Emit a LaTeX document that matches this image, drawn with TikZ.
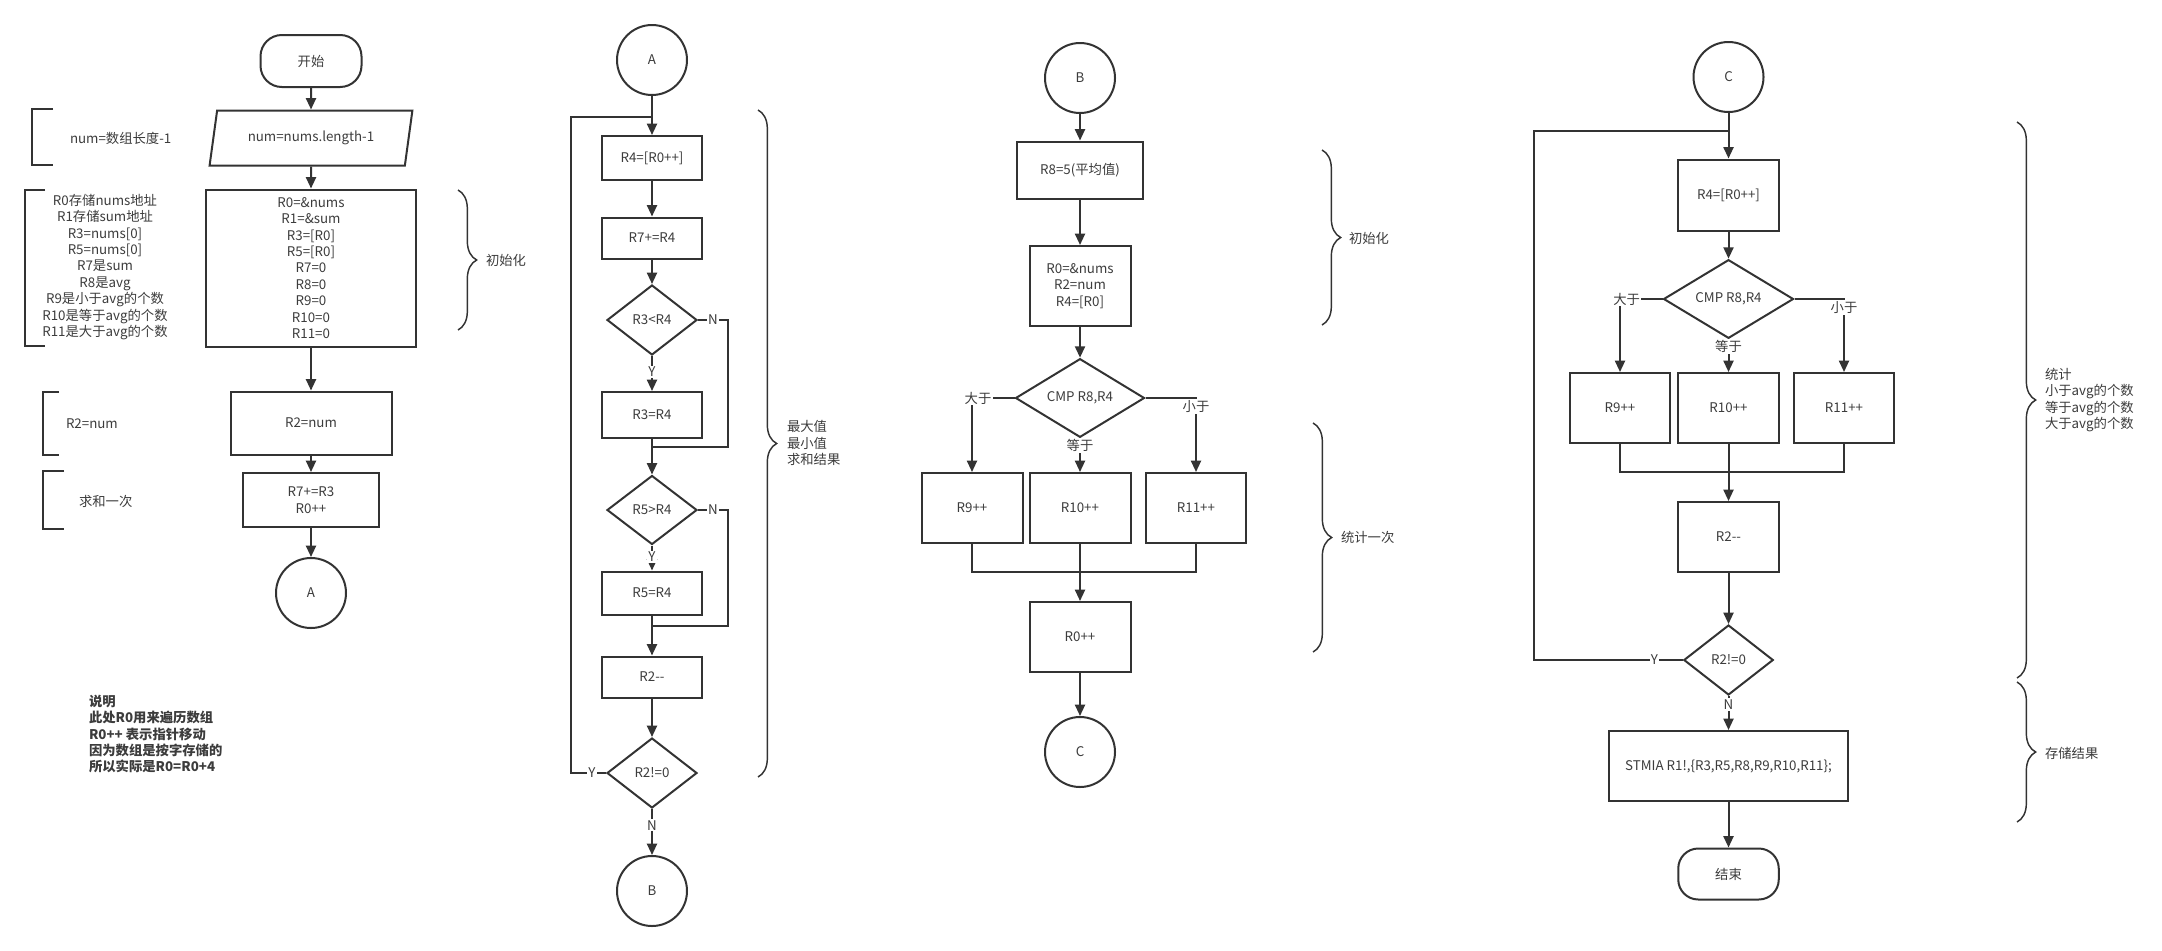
\documentclass[tikz,border=0pt]{standalone}
\usepackage{fontspec}
\setmainfont{Noto Sans CJK SC}
\usetikzlibrary{arrows.meta,shapes.geometric,decorations.pathreplacing}

\definecolor{inkgray}{HTML}{333333}
\definecolor{txtgray}{HTML}{3C3C3C}
\newcommand{\diagfont}{\fontsize{10pt}{12.3pt}\selectfont}

\tikzset{every picture/.style={line width=1.5pt}}
\tikzset{
  every node/.style={font=\diagfont},
  box/.style={draw=inkgray, rectangle, inner sep=0pt, text=txtgray, align=center},
  term/.style={box, rounded corners=16pt},
  conn/.style={draw=inkgray, circle, inner sep=0pt, text=txtgray, minimum size=52.5pt},
  decision/.style={draw=inkgray, diamond, inner sep=0pt, text=txtgray},
  io/.style={draw=inkgray, trapezium, trapezium left angle=70, trapezium right angle=110, trapezium stretches=true, inner sep=0pt, text=txtgray},
  arr/.style={draw=inkgray, -{Triangle[length=8.5pt,width=7.5pt]}},
  wire/.style={draw=inkgray},
  lbl/.style={fill=white, inner sep=1pt, text=txtgray},
  note/.style={text=txtgray, inner sep=0pt, align=left},
  bracket/.style={draw=inkgray, line width=1.5pt},
  curly/.style={draw=inkgray, line width=1.1pt, decorate, decoration={brace, amplitude=14pt}},
}

\begin{document}
\begin{tikzpicture}[x=0.75pt,y=0.75pt,yscale=-1,xscale=1]
\useasboundingbox (0,0) rectangle (2162,950);

%Main flow, part 1
\node[term, minimum width=75.75pt, minimum height=39pt] (start) at (311,61) {开始};
\node[io, minimum width=152.25pt, minimum height=41.25pt] (inp) at (311,138) {num=nums.length-1};
\node[box, minimum width=157.5pt, minimum height=117.75pt] (init) at (311,268) {R0=\&nums\\R1=\&sum\\R3=[R0]\\R5=[R0]\\R7=0\\R8=0\\R9=0\\R10=0\\R11=0};
\node[box, minimum width=120.75pt, minimum height=47.25pt] (r2) at (311,423) {R2=num};
\node[box, minimum width=102pt, minimum height=40.5pt] (sum) at (311,500) {R7+=R3\\R0++};
\node[conn] (A1) at (311,593) {A};

\draw[arr] (start) -- (inp);
\draw[arr] (inp) -- (init);
\draw[arr] (init) -- (r2);
\draw[arr] (r2) -- (sum);
\draw[arr] (sum) -- (A1);

% Text Node
\draw[bracket] (53,109) -- (32,109) -- (32,165) -- (53,165);
\node[note, anchor=west] (n1) at (69,138) {num=数组长度-1};
\draw[bracket] (45,190) -- (25,190) -- (25,346) -- (45,346);
\node[note, align=center] (n2) at (105,267) {R0存储nums地址\\R1存储sum地址\\R3=nums[0]\\R5=nums[0]\\R7是sum\\R8是avg\\R9是小于avg的个数\\R10是等于avg的个数\\R11是大于avg的个数};
\draw[bracket] (59,392) -- (43,392) -- (43,455) -- (59,455);
\node[note, anchor=west] (n3) at (65,424) {R2=num};
\draw[bracket] (64,471) -- (43,471) -- (43,529) -- (64,529);
\node[note, anchor=west] (n4) at (78,501) {求和一次};
\draw[curly] (458,190) -- (458,330);
\node[note, anchor=west] (n5) at (485,260) {初始化};
% Text Node
\node[note, anchor=west, font=\diagfont\bfseries] (memo) at (88,734) {说明\\此处R0用来遍历数组\\R0++ 表示指针移动\\因为数组是按字存储的\\所以实际是R0=R0+4};

%Main flow, part 2
\node[conn] (A2) at (652,60) {A};
\node[box, minimum width=75pt, minimum height=33pt] (r4a) at (652,158) {R4=[R0++]};
\node[box, minimum width=75pt, minimum height=30.75pt] (r7) at (652,238) {R7+=R4};
\node[decision, minimum width=67.5pt, minimum height=52.5pt] (lt) at (652,320) {R3<R4};
\node[box, minimum width=75pt, minimum height=34.5pt] (r3) at (652,415) {R3=R4};
\node[decision, minimum width=67.5pt, minimum height=51.75pt] (gt) at (652,510) {R5>R4};
\node[box, minimum width=75pt, minimum height=32.25pt] (r5) at (652,593) {R5=R4};
\node[box, minimum width=75pt, minimum height=30.75pt] (dec2) at (652,677) {R2-{}-};
\node[decision, minimum width=67.5pt, minimum height=52.5pt] (ne2) at (652,773) {R2!=0};
\node[conn] (B2) at (652,891) {B};
\coordinate (loopA) at (652,117);
\coordinate (joinA) at (652,447);
\coordinate (joinB) at (652,626);

\draw[arr] (A2) -- (r4a);
\draw[arr] (r4a) -- (r7);
\draw[arr] (r7) -- (lt);
\draw[arr] (lt) -- node[lbl, pos=0.45] {Y} (r3);
\draw[wire] (lt.east) -- node[lbl] {N} ++(30,0) |- (joinA);
\draw[arr] (r3) -- (gt);
\draw[arr] (gt) -- node[lbl, pos=0.45] {Y} (r5);
\draw[wire] (gt.east) -- node[lbl] {N} ++(30,0) |- (joinB);
\draw[arr] (r5) -- (dec2);
\draw[arr] (dec2) -- (ne2);
\draw[arr] (ne2) -- node[lbl, pos=0.35] {N} (B2);
\draw[wire] (ne2.west) -- node[lbl, pos=0.4] {Y} ++(-35,0) |- (loopA);

\draw[curly] (758,110) -- (758,777);
\node[note, anchor=west] (n6) at (786,443) {最大值\\最小值\\求和结果};

%Main flow, part 3
\node[conn] (B3) at (1080,78) {B};
\node[box, minimum width=94.5pt, minimum height=42.75pt] (r8) at (1080,170) {R8=5(平均值)};
\node[box, minimum width=75.75pt, minimum height=60pt] (init3) at (1080,286) {R0=\&nums\\R2=num\\R4=[R0]};
\node[decision, minimum width=96.75pt, minimum height=51.75pt] (cmp3) at (1080,398) {CMP R8,R4};
\node[box, minimum width=75.75pt, minimum height=52.5pt] (inc9) at (972,508) {R9++};
\node[box, minimum width=75.75pt, minimum height=52.5pt] (inc10) at (1080,508) {R10++};
\node[box, minimum width=75pt, minimum height=52.5pt] (inc11) at (1196,508) {R11++};
\node[box, minimum width=75.75pt, minimum height=52.5pt] (r0inc) at (1080,637) {R0++};
\node[conn] (C3) at (1080,752) {C};
\coordinate (mergeB) at (1080,572);

\draw[arr] (B3) -- (r8);
\draw[arr] (r8) -- (init3);
\draw[arr] (init3) -- (cmp3);
\draw[arr] (cmp3.west) -| node[lbl, pos=0.5, xshift=4.5pt] {大于} (inc9);
\draw[arr] (cmp3.east) -| node[lbl, pos=0.5, anchor=north] {小于} (inc11);
\draw[arr] (cmp3) -- node[lbl, pos=0.22] {等于} (inc10);
\draw[wire] (inc9) |- (mergeB);
\draw[wire] (inc11) |- (mergeB);
\draw[arr] (inc10) -- (r0inc);
\draw[arr] (r0inc) -- (C3);

\draw[curly] (1322,150) -- (1322,325);
\node[note, anchor=west] (n7) at (1348,238) {初始化};
\draw[curly] (1313,423) -- (1313,652);
\node[note, anchor=west] (n8) at (1340,537) {统计一次};

%Main flow, part 4
\node[conn] (C4) at (1728.5,77) {C};
\node[box, minimum width=75.375pt, minimum height=53.25pt] (r4b) at (1728.5,195) {R4=[R0++]};
\node[decision, minimum width=97.5pt, minimum height=52.5pt] (cmp4) at (1728.5,299) {CMP R8,R4};
\node[box, minimum width=75.375pt, minimum height=52.5pt] (inc9b) at (1620,408) {R9++};
\node[box, minimum width=75.375pt, minimum height=52.5pt] (inc10b) at (1728.5,408) {R10++};
\node[box, minimum width=75pt, minimum height=52.5pt] (inc11b) at (1844,408) {R11++};
\node[box, minimum width=75.375pt, minimum height=52.5pt] (dec4) at (1728.5,537) {R2-{}-};
\node[decision, minimum width=67.125pt, minimum height=52.5pt] (ne4) at (1728.5,660) {R2!=0};
\node[box, minimum width=179.5pt, minimum height=52.5pt] (store) at (1728.5,766) {STMIA R1!,\{R3,R5,R8,R9,R10,R11\};};
\node[term, minimum width=75.375pt, minimum height=38.25pt, rounded corners=15pt] (finish) at (1728.5,874) {结束};
\coordinate (loopC) at (1728.5,131);
\coordinate (mergeC) at (1728.5,472);

\draw[arr] (C4) -- (r4b);
\draw[arr] (r4b) -- (cmp4);
\draw[arr] (cmp4.west) -| node[lbl, pos=0.5, xshift=5pt] {大于} (inc9b);
\draw[arr] (cmp4.east) -| node[lbl, pos=0.5, anchor=north] {小于} (inc11b);
\draw[arr] (cmp4) -- node[lbl, pos=0.22] {等于} (inc10b);
\draw[wire] (inc9b) |- (mergeC);
\draw[wire] (inc11b) |- (mergeC);
\draw[arr] (inc10b) -- (dec4);
\draw[arr] (dec4) -- (ne4);
\draw[wire] (ne4.west) -- node[lbl, pos=0.19] {Y} ++(-149,0) |- (loopC);
\draw[arr] (ne4) -- node[lbl, pos=0.25] {N} (store);
\draw[arr] (store) -- (finish);

\draw[curly] (2017,122) -- (2017,678);
\node[note, anchor=west] (n9) at (2044,400) {统计\\小于avg的个数\\等于avg的个数\\大于avg的个数};
\draw[curly] (2017,682) -- (2017,822);
\node[note, anchor=west] (n10) at (2044,753) {存储结果};

\end{tikzpicture}
\end{document}
